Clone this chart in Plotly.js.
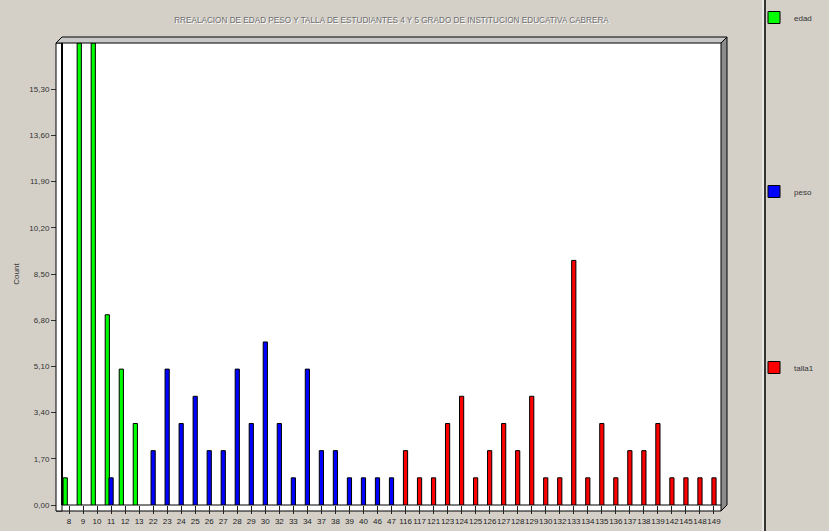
<!DOCTYPE html>
<html>
<head>
<meta charset="utf-8">
<script src="https://cdn.plot.ly/plotly-3.0.1.min.js"></script>
<style>html,body{margin:0;padding:0;background:#d4d0c8;}#chart{width:829px;height:531px;}</style>
</head>
<body>
<div id="chart"></div>
<script>
// ---- data ----
const categories = ["8","9","10","11","12","13","22","23","24","25","26","27","28","29","30","32","33","34","37","38","39","40","46","47","116","117","121","123","124","125","126","127","128","129","130","132","133","134","135","136","137","138","139","142","145","148","149"];
const edadCats = ["8","9","10","11","12","13"];
const edadVals = [1, 17, 17, 7, 5, 3];
const pesoCats = ["11","22","23","24","25","26","27","28","29","30","32","33","34","37","38","39","40","46","47"];
const pesoVals = [1, 2, 5, 3, 4, 2, 2, 5, 3, 6, 3, 1, 5, 2, 2, 1, 1, 1, 1];
const tallaCats = ["116","117","121","123","124","125","126","127","128","129","130","132","133","134","135","136","137","138","139","142","145","148","149"];
const tallaVals = [2, 1, 1, 3, 4, 1, 2, 3, 2, 4, 1, 1, 9, 1, 3, 1, 2, 2, 3, 1, 1, 1, 1];
const yTicks = [0, 1.7, 3.4, 5.1, 6.8, 8.5, 10.2, 11.9, 13.6, 15.3];
const titleText = "RREALACION DE EDAD PESO Y TALLA DE ESTUDIANTES 4 Y 5 GRADO DE INSTITUCION EDUCATIVA CABRERA";

// ---- geometry helpers (pixel -> paper) ----
const W = 829, Hc = 531;
const L = 62, R = 721, T = 43, B = 505;
const PW = R - L, PH = B - T;
const X = p => (p - L) / PW;
const Y = p => (B - p) / PH;
const pt = (x, y) => X(x) + ',' + Y(y);

const font = "Liberation Sans, Arial, sans-serif";

function barTrace(name, xs, ys, color, offset, legendId) {
  return {
    type: 'bar', name: name, x: xs, y: ys,
    width: 0.3, offset: offset,
    marker: {color: color, line: {color: '#000', width: 1}},
    legend: legendId, hoverinfo: 'x+y+name'
  };
}

const data = [
  barTrace('edad', edadCats, edadVals, '#00ff00', -0.42, 'legend'),
  barTrace('peso', pesoCats, pesoVals, '#0000ff', -0.15, 'legend2'),
  barTrace('talla1', tallaCats, tallaVals, '#ff0000', -0.15, 'legend3')
];

const shapes = [
  // floor
  {type: 'path', xref: 'paper', yref: 'paper', layer: 'below',
   path: 'M' + pt(56, 511) + ' L' + pt(62, 505) + ' L' + pt(727, 505) + ' L' + pt(721, 511) + ' Z',
   fillcolor: '#ffffff', line: {color: '#000', width: 1}},
  // left wall
  {type: 'rect', xref: 'paper', yref: 'paper', layer: 'above',
   x0: X(56), x1: X(62), y0: Y(511), y1: Y(43),
   fillcolor: '#ffffff', line: {color: '#000', width: 1}},
  {type: 'line', xref: 'paper', yref: 'paper', layer: 'above',
   x0: X(62), x1: X(62), y0: Y(505), y1: Y(43), line: {color: '#000', width: 2}},
  // top wall
  {type: 'path', xref: 'paper', yref: 'paper', layer: 'above',
   path: 'M' + pt(56, 43) + ' L' + pt(62, 37) + ' L' + pt(727, 37) + ' L' + pt(721, 43) + ' Z',
   fillcolor: '#c8c8c8', line: {color: '#000', width: 1}},
  // right wall
  {type: 'path', xref: 'paper', yref: 'paper', layer: 'above',
   path: 'M' + pt(721, 43) + ' L' + pt(727, 37) + ' L' + pt(727, 505) + ' L' + pt(721, 511) + ' Z',
   fillcolor: '#8c8c8c', line: {color: '#000', width: 1}},
  // legend separator
  {type: 'line', xref: 'paper', yref: 'paper', layer: 'above',
   x0: X(763), x1: X(763), y0: Y(531), y1: Y(0), line: {color: '#ffffff', width: 1}},
  {type: 'line', xref: 'paper', yref: 'paper', layer: 'above',
   x0: X(765), x1: X(765), y0: Y(531), y1: Y(0), line: {color: '#000', width: 1.5}}
];

function legendAt(topPx) {
  return {
    xref: 'container', yref: 'container', x: 754 / W, y: 1 - topPx / Hc,
    xanchor: 'left', yanchor: 'top',
    bgcolor: 'rgba(0,0,0,0)', borderwidth: 0,
    font: {family: font, size: 8, color: '#333333'}, itemwidth: 30
  };
}

const layout = {
  width: W, height: Hc,
  paper_bgcolor: '#d4d0c8', plot_bgcolor: '#ffffff',
  margin: {l: L, r: W - R, t: T, b: Hc - B, pad: 0},
  separators: ',.',
  font: {family: font, size: 8, color: '#333333'},
  title: {
    text: titleText, x: 0.5, xref: 'paper', y: 1 - 20 / Hc, yref: 'container',
    xanchor: 'center', yanchor: 'middle',
    font: {family: font, size: 8.2, color: '#6e6e6e', shadow: '1px 1px 0px #ffffff'}
  },
  barmode: 'overlay',
  showlegend: true,
  legend: legendAt(3),
  legend2: legendAt(177),
  legend3: legendAt(353),
  xaxis: {
    type: 'category', categoryorder: 'array', categoryarray: categories,
    range: [-0.5, categories.length - 0.5],
    tickmode: 'array', tickvals: categories, ticktext: categories,
    tickangle: 0, ticks: 'outside', ticklen: 8, tickcolor: '#222', tickwidth: 1,
    showgrid: false, zeroline: false, showline: false,
    tickfont: {family: font, size: 8, color: '#222'}, fixedrange: true
  },
  yaxis: {
    range: [0, 17], tickmode: 'array', tickvals: yTicks, tickformat: '.2f',
    ticks: 'outside', ticklen: 10, tickcolor: '#333', tickwidth: 1,
    showgrid: false, zeroline: false, showline: false,
    tickfont: {family: font, size: 8, color: '#333'},
    title: {text: 'Count', font: {family: font, size: 8, color: '#333'}, standoff: 8},
    fixedrange: true
  },
  shapes: shapes
};

Plotly.newPlot('chart', data, layout, {displayModeBar: false, staticPlot: true});
</script>
</body>
</html>
